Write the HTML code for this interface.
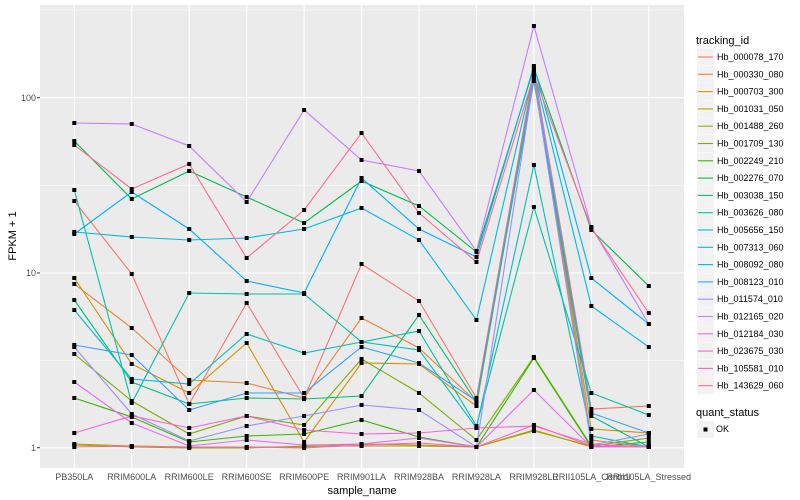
<!DOCTYPE html>
<html><head><meta charset="utf-8"><style>
body{margin:0;background:#fff;}
svg{display:block;font-family:"Liberation Sans",sans-serif;}
</style></head><body>
<svg id="s" width="800" height="500" xmlns="http://www.w3.org/2000/svg">
<rect x="40" y="5" width="644" height="463" fill="#ebebeb"/>
<g id="grid"></g>
<g id="lines"></g>
<g id="pts"></g>
<g font-size="9" fill="#4d4d4d" text-anchor="end">
<text x="36" y="101">100</text><text x="36" y="276">10</text><text x="36" y="451">1</text>
</g>
<g stroke="#333" stroke-width="1">
<line x1="37" x2="40" y1="97.7" y2="97.7"/><line x1="37" x2="40" y1="273" y2="273"/><line x1="37" x2="40" y1="447.7" y2="447.7"/>
</g>
<text transform="translate(16,236) rotate(-90)" font-size="11" text-anchor="middle" fill="#000">FPKM + 1</text>
<g id="xl" font-size="9" fill="#4d4d4d" text-anchor="middle">
<text x="74.3" y="480">PB350LA</text>
<text x="131.7" y="480">RRIM600LA</text>
<text x="189.2" y="480">RRIM600LE</text>
<text x="246.6" y="480">RRIM600SE</text>
<text x="304.1" y="480">RRIM600PE</text>
<text x="361.5" y="480">RRIM901LA</text>
<text x="419" y="480">RRIM928BA</text>
<text x="476.4" y="480">RRIM928LA</text>
<text x="533.9" y="480">RRIM928LE</text>
<text x="591.3" y="480">RRII105LA_Control</text>
<text x="648.8" y="480">RRII105LA_Stressed</text>
</g>
<text x="362" y="494" font-size="11" text-anchor="middle" fill="#000">sample_name</text>
<text x="696" y="44" font-size="11" fill="#000">tracking_id</text>
<g id="leg"></g>
<g id="legt" font-size="9" fill="#000">
<text x="717" y="60">Hb_000078_170</text>
<text x="717" y="77.3">Hb_000330_080</text>
<text x="717" y="94.6">Hb_000703_300</text>
<text x="717" y="111.9">Hb_001031_050</text>
<text x="717" y="129.2">Hb_001488_260</text>
<text x="717" y="146.5">Hb_001709_130</text>
<text x="717" y="163.8">Hb_002249_210</text>
<text x="717" y="181.1">Hb_002276_070</text>
<text x="717" y="198.4">Hb_003038_150</text>
<text x="717" y="215.7">Hb_003626_080</text>
<text x="717" y="233">Hb_005656_150</text>
<text x="717" y="250.3">Hb_007313_060</text>
<text x="717" y="267.6">Hb_008092_080</text>
<text x="717" y="284.9">Hb_008123_010</text>
<text x="717" y="302.2">Hb_011574_010</text>
<text x="717" y="319.5">Hb_012165_020</text>
<text x="717" y="336.8">Hb_012184_030</text>
<text x="717" y="354.1">Hb_023675_030</text>
<text x="717" y="371.4">Hb_105581_010</text>
<text x="717" y="388.7">Hb_143629_060</text>
</g>
<text x="696" y="416" font-size="11" fill="#000">quant_status</text>
<rect x="697" y="421" width="17" height="17" fill="#f2f2f2"/>
<rect x="703.5" y="427.5" width="4" height="4" fill="#000"/>
<text x="716" y="432" font-size="9" fill="#000">OK</text>
</svg>
<script>
var NS="http://www.w3.org/2000/svg";
function el(p,t,a){var e=document.createElementNS(NS,t);for(var k in a)e.setAttribute(k,a[k]);document.getElementById(p).appendChild(e);return e;}
var xs=[];for(var i=0;i<11;i++)xs.push(74.3+57.45*i);
[10,185.3,360.4].forEach(function(y){el("grid","line",{x1:40,x2:684,y1:y,y2:y,stroke:"#fff","stroke-width":0.5});});
[97.7,273,447.7].forEach(function(y){el("grid","line",{x1:40,x2:684,y1:y,y2:y,stroke:"#fff","stroke-width":1.1});});
xs.forEach(function(x){el("grid","line",{x1:x,x2:x,y1:5,y2:468,stroke:"#fff","stroke-width":1.1});});
var cols=["#F8766D","#EA8331","#D89000","#C09B00","#A3A500","#7CAE00","#39B600","#00BB4E","#00BF7D","#00C1A3","#00BFC4","#00BAE0","#00B0F6","#35A2FF","#9590FF","#C77CFF","#E76BF3","#FA62DB","#FF62BC","#FF6C91"];
var d=[
[201,274,404,303,398,264,301,398,70,409,406],
[284,328,380,383,398,318,348,402,73,440,447],
[278,364,393,343,442,363,364,406,76,429,433],
[444,446,447,447,447,444,445,447,430,447,447],
[445,447,448,448,446,446,446,447,431,446,446],
[354,401,434,416,425,359,393,440,357,446,438],
[398,417,442,436,434,420,437,447,358,447,442],
[141,199,171,197,223,181,206,252,68,230,286],
[300,382,404,398,399,396,315,402,81,416,447],
[190,403,293,294,294,342,331,426,207,393,415],
[310,379,384,334,353,342,350,428,165,436,447],
[232,237,240,238,229,208,240,320,72,306,347],
[234,192,229,281,293,178,229,257,66,278,324],
[345,355,410,393,393,347,363,401,77,413,433],
[347,414,441,426,416,405,410,447,78,445,434],
[123,124,146,202,110,160,171,251,26,227,324],
[382,423,446,440,445,444,438,447,390,447,447],
[433,416,428,416,430,434,433,428,426,444,447],
[447,446,447,447,448,445,443,447,425,446,446],
[145,189,164,258,210,133,213,262,75,228,313]];
d.forEach(function(r,j){
 el("lines","polyline",{points:r.map(function(y,i){return xs[i]+","+y;}).join(" "),fill:"none",stroke:cols[j],"stroke-width":1.1});
 r.forEach(function(y,i){el("pts","rect",{x:xs[i]-2,y:y-2,width:4,height:4,fill:"#000"});});
 var ly=48.5+17.3*j;
 el("leg","rect",{x:697,y:ly,width:17,height:17,fill:"#f2f2f2"});
 el("leg","line",{x1:698,x2:713,y1:ly+8.5,y2:ly+8.5,stroke:cols[j],"stroke-width":1.1});
});
</script>
</body></html>
